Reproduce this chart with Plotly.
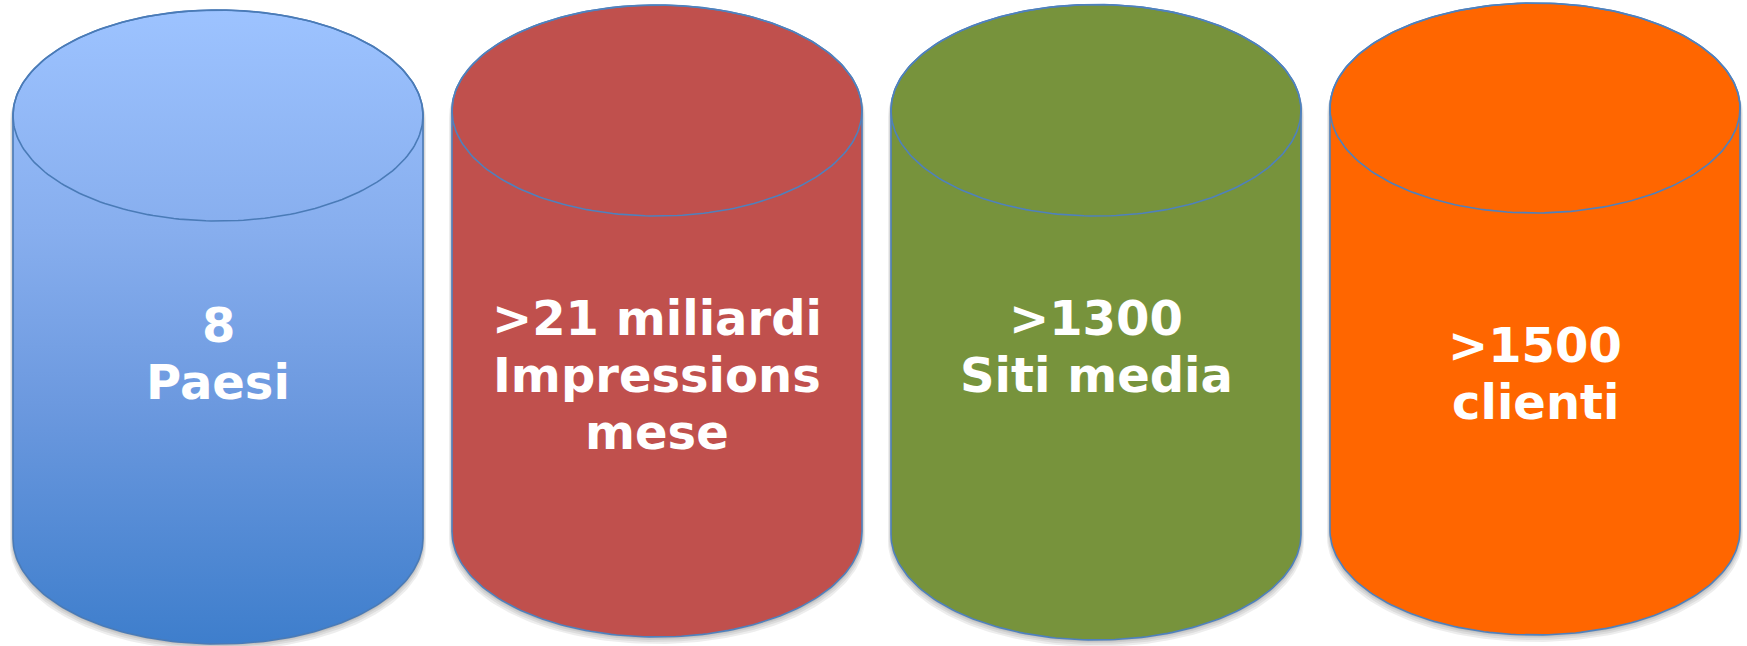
import numpy as np
import plotly.graph_objects as go

# ---------------- data ----------------
headline = ["8", ">21 miliardi", ">1300", ">1500"]
caption = [["Paesi"], ["Impressions", "mese"], ["Siti media"], ["clienti"]]

# ---------------- style / layout ----------------
W, H = 1747, 646
PX_PER_UNIT = 439.0
X0_PX = 218.0
HALF_W = 205.0 / PX_PER_UNIT

tops = [10, 5, 4.5, 3]
top_ellipse_bottoms = [221, 216, 216, 213]
bottoms = [644, 637, 640, 635]
first_baselines = [342, 335, 335, 362]
LINE_SP = 57
FONT_SIZE = 48

fills = [None, "#C0504D", "#77933C", "#FF6600"]
gradient = [[0, "#9DC3FF"], [0.35, "#87AEEE"], [0.62, "#6C99DF"], [1, "#3E7ECC"]]
outline = ["#4A7BB7", "#4F81BD", "#4F81BD", "#4F81BD"]

fig = go.Figure()
t = np.linspace(0, np.pi, 120)


def silhouette(cx, a, cyt, cyb, ry):
    xs = np.concatenate([cx - a * np.cos(t), cx + a * np.cos(t), [cx - a]])
    ys = np.concatenate([cyt - ry * np.sin(t), cyb + ry * np.sin(t), [cyt]])
    return xs, ys


for i in range(len(headline)):
    cx = float(i)
    ry = (top_ellipse_bottoms[i] - tops[i]) / 2.0
    cyt = tops[i] + ry
    cyb = bottoms[i] - ry

    # soft shadow layers
    for dy, dx in [(7, 3), (5, 2), (3, 1.2), (1.5, 0.6)]:
        xs, ys = silhouette(cx, HALF_W + dx / PX_PER_UNIT, cyt + dy, cyb + dy, ry)
        fig.add_trace(go.Scatter(x=xs, y=ys, mode="lines", fill="toself",
                                 fillcolor="rgba(0,0,0,0.07)", line=dict(width=0),
                                 hoverinfo="skip", showlegend=False))

    xs, ys = silhouette(cx, HALF_W, cyt, cyb, ry)
    kw = dict(x=xs, y=ys, mode="lines", fill="toself",
              line=dict(color=outline[i], width=1.6),
              hoverinfo="skip", showlegend=False)
    if fills[i] is None:
        kw["fillgradient"] = dict(type="vertical", colorscale=gradient,
                                  start=tops[i], stop=bottoms[i])
    else:
        kw["fillcolor"] = fills[i]
    fig.add_trace(go.Scatter(**kw))

    # top ellipse outline
    tt = np.linspace(0, 2 * np.pi, 240)
    fig.add_trace(go.Scatter(x=cx + HALF_W * np.cos(tt), y=cyt + ry * np.sin(tt),
                             mode="lines", line=dict(color=outline[i], width=1.6),
                             hoverinfo="skip", showlegend=False))

    lines = [headline[i]] + caption[i]
    for j, txt in enumerate(lines):
        base = first_baselines[i] + j * LINE_SP
        fig.add_annotation(x=cx, y=base - 17, text=txt, showarrow=False,
                           xanchor="center", yanchor="middle",
                           font=dict(family="DejaVu Sans", size=FONT_SIZE,
                                     color="white", weight="bold"))

fig.update_xaxes(range=[-X0_PX / PX_PER_UNIT, (W - X0_PX) / PX_PER_UNIT],
                 visible=False, fixedrange=True)
fig.update_yaxes(range=[H, 0], visible=False, fixedrange=True)
fig.update_layout(width=W, height=H, margin=dict(l=0, r=0, t=0, b=0),
                  paper_bgcolor="white", plot_bgcolor="white")

fig.write_html("out.html", config={"displayModeBar": False},
               post_script="document.body.style.margin='0';document.body.style.overflow='hidden';")
